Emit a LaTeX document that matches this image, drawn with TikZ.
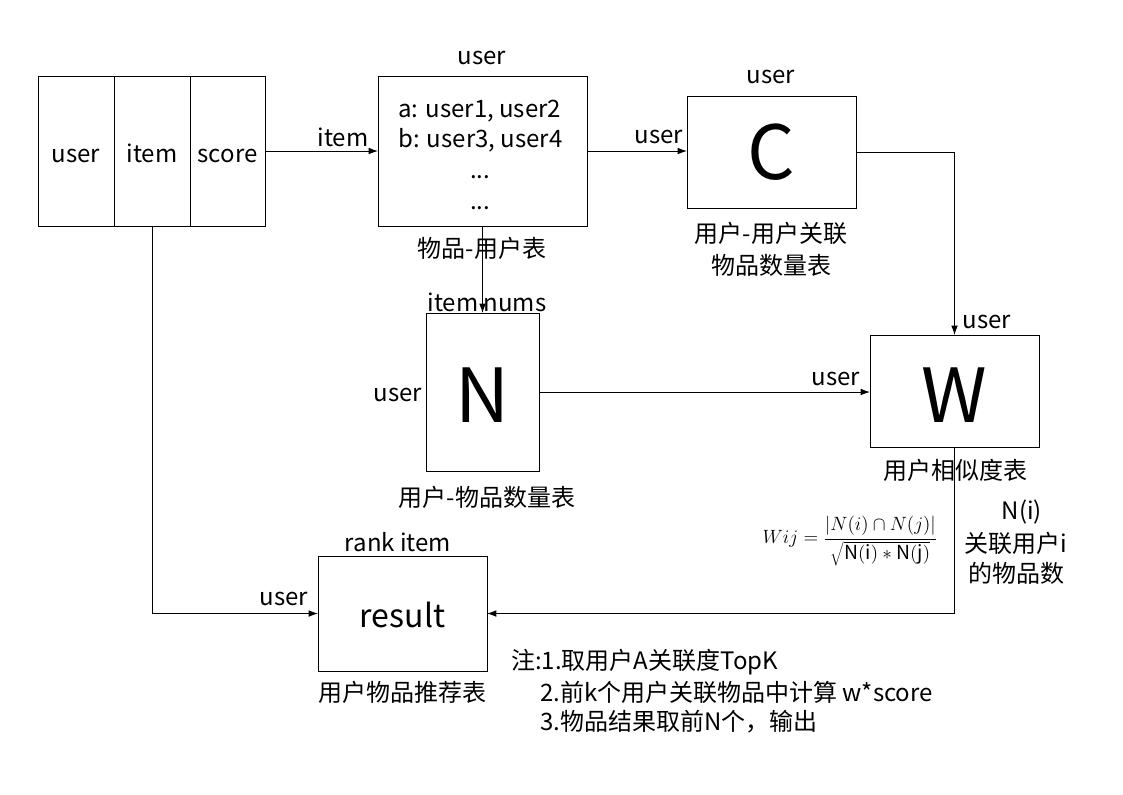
\documentclass[tikz,border=0pt]{standalone}
\usepackage{fontspec}
\setmainfont{Noto Sans CJK SC}
\usetikzlibrary{arrows.meta}
\begin{document}
\begin{tikzpicture}[x=0.75pt,y=-0.75pt,
  box/.style={draw, line width=0.75pt, inner sep=0pt, outer sep=0pt},
  lbl/.style={font=\fontsize{18}{20}\selectfont, inner sep=0pt},
  big/.style={font=\fontsize{56}{60}\selectfont},
  conn/.style={line width=0.75pt, -{Latex[length=7pt,width=5pt]}},
]
\useasboundingbox (0,0) rectangle (1123,794);
\fill[white] (0,0) rectangle (1123,794);

% table
\node[box, minimum width={76*0.75pt}, minimum height={150*0.75pt}] (c1) at (76,151) {};
\node[box, minimum width={76*0.75pt}, minimum height={150*0.75pt}] (c2) at (152,151) {};
\node[box, minimum width={75*0.75pt}, minimum height={150*0.75pt}] (c3) at (227.5,151) {};
\node[lbl, anchor=base] (c1t) at (76,162) {user};
\node[lbl, anchor=base] (c2t) at (152,162) {item};
\node[lbl, anchor=base] (c3t) at (227.5,162) {score};

% item-user table
\node[box, minimum width={209*0.75pt}, minimum height={150*0.75pt}] (A) at (482.5,151) {};
\node[lbl, anchor=base west] (a1) at (398,117) {a: user1, user2};
\node[lbl, anchor=base west] (a2) at (398,147) {b: user3, user4};
\node[lbl, anchor=base west] (a3) at (470,178) {...};
\node[lbl, anchor=base west] (a4) at (470,209) {...};
\node[lbl] (Atop) at (482,58) {user};
\node[lbl, fill=white, inner sep=1pt] (Alab) at (482,248) {物品-用户表};

% C
\node[box, minimum width={169*0.75pt}, minimum height={112*0.75pt}] (C) at (771.5,152) {};
\node[big] (Ct) at (771.5,152) {C};
\node[lbl] (Ctop) at (771,77) {user};
\node[lbl] (Cl1) at (771,233) {用户-用户关联};
\node[lbl] (Cl2) at (771,265) {物品数量表};

% N
\node[box, minimum width={113*0.75pt}, minimum height={158*0.75pt}] (N) at (482.5,392) {};
\node[big] (Nt) at (482.5,395) {N};
\node[lbl] (Nleft) at (398,395) {user};
\node[lbl] (Ntop) at (487,302) {item nums};
\node[lbl] (Nlab) at (487,497) {用户-物品数量表};

% W
\node[box, minimum width={169*0.75pt}, minimum height={112*0.75pt}] (W) at (954.5,391) {};
\node[big] (Wt) at (954.5,395) {W};
\node[lbl] (Wtop) at (987,322) {user};
\node[lbl] (Wlab) at (955,470) {用户相似度表};

% result
\node[box, minimum width={169*0.75pt}, minimum height={115*0.75pt}] (R) at (402.5,613.5) {};
\node[font=\fontsize{24}{28}\selectfont] (Rt) at (402.5,615) {result};
\node[lbl] (Rtop) at (398,542) {rank item};
\node[lbl] (Rlab) at (402,692) {用户物品推荐表};

% connectors
\draw[conn] (c3.east) -- (A.west);
\node[lbl] (l1) at (343,137) {item};
\draw[conn] (A.east) -- (A.east -| C.west);
\node[lbl] (l2) at (659,137) {user};
\draw[conn] (C.east) -| (W.north);
\draw[conn] (A.south) -- (N.north);
\draw[conn] (N.east) -- (N.east -| W.west);
\node[lbl] (l3) at (836,379) {user};
\draw[conn] (W.south) |- (R.east);
\draw[conn] (c2.south) |- (R.west);
\node[lbl] (l4) at (284,599) {user};

% formula
\node[font=\fontsize{14.5}{17}\selectfont, inner sep=0pt] (F) at (850,541)
  {$\displaystyle Wij=\frac{|N(i)\cap N(j)|}{\sqrt{\mathrm{N(i)}*\mathrm{N(j)}}}$};
\node[lbl] (n1) at (1022,512) {N(i)};
\node[lbl] (n2) at (1016,543) {关联用户i};
\node[lbl] (n3) at (1016,573) {的物品数};

% note
\node[lbl, anchor=west] (t1) at (511,662) {注:1.取用户A关联度TopK};
\node[lbl, anchor=west] (t2) at (540,692) {2.前k个用户关联物品中计算 w*score};
\node[lbl, anchor=west] (t3) at (540,722) {3.物品结果取前N个，输出};
\end{tikzpicture}
\end{document}
